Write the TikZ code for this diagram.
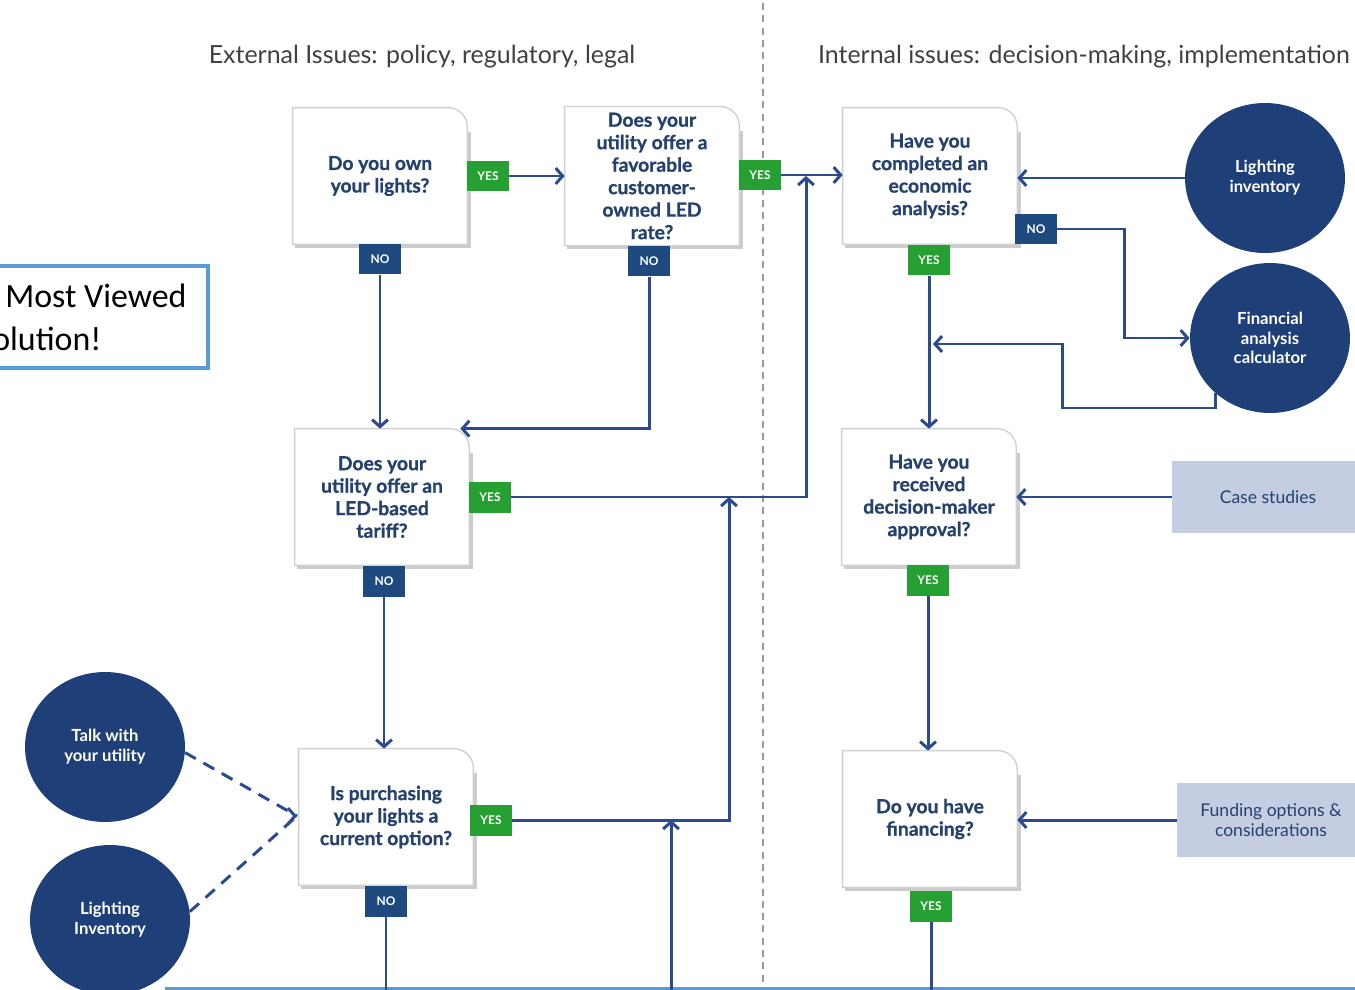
\documentclass[tikz,border=0pt]{standalone}
\usepackage{fontspec}
\setmainfont{Lato}
\newfontfamily\heavyfont{Lato}[BoldFeatures={FakeBold=0.9}]
\newfontfamily\calfont{Carlito}
\usetikzlibrary{arrows.meta,shapes.geometric,backgrounds,calc}
\definecolor{navy}{HTML}{24416F}
\definecolor{circfill}{HTML}{1F3F78}
\definecolor{nofill}{HTML}{1F4A80}
\definecolor{yesfill}{HTML}{27A033}
\definecolor{flowblue}{HTML}{2B4A92}
\definecolor{toolgrey}{HTML}{C4CDE1}
\definecolor{callblue}{HTML}{5B9BD5}
\tikzset{
  qbox/.style={minimum width=3.48cm,minimum height=2.72cm,align=center,text=navy,font=\heavyfont\bfseries\fontsize{11}{12.8}\selectfont},
  qline/.style={draw=black!18,line width=0.8pt,fill=white},
  qshade/.style={fill=black!20},
  yestag/.style={fill=yesfill,text=white,minimum width=0.84cm,minimum height=0.62cm,inner sep=0pt,font=\bfseries\fontsize{6.8}{7}\selectfont},
  notag/.style={yestag,fill=nofill},
  toolcirc/.style={ellipse,fill=circfill,text=white,minimum width=3.2cm,minimum height=3cm,align=center,font=\bfseries\fontsize{9.5}{11.3}\selectfont},
  toolbox/.style={fill=toolgrey,text=navy,align=center,font=\fontsize{10}{11.3}\selectfont},
  flow/.style={draw=flowblue,line width=1.7pt,-{Straight Barb[length=4pt,width=9pt]}},
  link/.style={draw=flowblue,line width=1.7pt},
  dlink/.style={link,dash pattern=on 7pt off 5pt},
  head/.style={text=black!75,font=\fontsize{14.2}{16}\selectfont}
}
\begin{document}
\begin{tikzpicture}[x=0.02cm,y=-0.02cm]
\useasboundingbox (0,0) rectangle (1355,990);
\clip (0,0) rectangle (1355,990);
\draw[black!40,line width=1.2pt,dash pattern=on 4pt off 3pt] (763,3) -- (763,995);
\draw[callblue,line width=2pt] (165,989) -- (1360,989);
\node[head] (exth) at (422,57) {External Issues: policy, regulatory, legal};
\node[head] (inth) at (1084,57) {Internal issues: decision-making, implementation};
\draw[callblue,line width=2.3pt,fill=white] (-20,266) rectangle (208,368);
\node[anchor=base west,inner sep=0pt,font=\calfont\fontsize{19.3}{23}\selectfont] (mv) at (5,307) {Most Viewed};
\node[anchor=base west,inner sep=0pt,font=\calfont\fontsize{19.3}{23}\selectfont] (sol) at (-8,350) {olution!};

\node[qbox] (own) at (380,176) {Do you own\\your lights?};
\node[qbox] (rate) at (652,176) {Does your\\utility offer a\\favorable\\customer-\\owned LED\\rate?};
\node[qbox] (econ) at (930,176) {Have you\\completed an\\economic\\analysis?};
\node[qbox] (tariff) at (382,497) {Does your\\utility offer an\\LED-based\\tariff?};
\node[qbox] (approv) at (929,497) {Have you\\received\\decision-maker\\approval?};
\node[qbox] (purch) at (386,817) {Is purchasing\\your lights a\\current option?};
\node[qbox] (fin) at (930,819) {Do you have\\financing?};

\node[toolcirc] (inv1) at (1265,178) {Lighting\\inventory};
\node[toolcirc] (fincalc) at (1270,338) {Financial\\analysis\\calculator};
\node[toolcirc] (talk) at (105,747) {Talk with\\your utility};
\node[toolcirc] (inv2) at (110,920) {Lighting\\Inventory};
\node[toolbox,minimum width=3.84cm,minimum height=1.44cm] (case) at (1268,497) {Case studies};
\node[toolbox,minimum width=3.76cm,minimum height=1.48cm] (fund) at (1271,820) {Funding options \&\\considerations};

\node[yestag] (yes1) at (488,176) {YES};
\node[notag] (no1) at (380,259) {NO};
\node[yestag] (yes2) at (760,175) {YES};
\node[notag] (no2) at (649,261) {NO};
\node[notag] (no3) at (1036,229) {NO};
\node[yestag] (yes3) at (929,260) {YES};
\node[yestag] (yes4) at (490,497) {YES};
\node[notag] (no4) at (384,581) {NO};
\node[yestag] (yes5) at (928,580) {YES};
\node[yestag] (yes6) at (491,820) {YES};
\node[notag] (no6) at (386,901) {NO};
\node[yestag] (yes7) at (931,906) {YES};

\coordinate (j1) at (806,176);
\coordinate (j2) at (729,497);
\coordinate (j3) at (671,820);
\coordinate (j5) at (1062,408);
\coordinate (j6) at (933,344);
\coordinate (meet) at (297,816);
\coordinate (btm) at (0,995);

\draw[flow] (yes1) -- (rate);
\draw[flow] (yes2.east) -- (yes2.east -| econ.west);
\draw[flow] (yes4) -| (j1);
\draw[flow] (yes6) -| (j2);
\draw[flow] (j3 |- btm) -- (j3);
\draw[flow] (no1) -- (no1 |- tariff.north);
\draw[flow] (no2) |- ($(tariff.north east)+(-9,0)$);
\draw[flow] (no4) -- (no4 |- purch.north);
\draw[link] (no6) -- (no6 |- btm);
\draw[flow] (inv1.west) -- (inv1.west -| econ.east);
\draw[flow] (no3.east) -- ++(67,0) |- (fincalc.west);
\draw[flow] (fincalc.225) |- (j5) |- (j6);
\draw[flow] (yes3) -- (yes3 |- approv.north);
\draw[flow] (case) -- (case -| approv.east);
\draw[flow] (yes5) -- (yes5 |- fin.north);
\draw[flow] (fund) -- (fund -| fin.east);
\draw[link] (yes7) -- (yes7 |- btm);
\draw[dlink] (talk.-4) -- (meet);
\draw[dlink] (inv2.6) -- (meet);
\draw[flow] ($(meet)+(-3,0)$) -- (meet);

\begin{pgfonlayer}{background}
\foreach \b in {own,rate,econ,tariff,approv,purch,fin}{
  \fill[qshade] ([shift={(1.5pt,-2pt)}]\b.south west) rectangle ([shift={(2pt,-14pt)}]\b.north east);
  \draw[qline] (\b.south west) -- (\b.north west) -- ([xshift=-11pt]\b.north east) arc[start angle=90,end angle=0,radius=11pt] -- (\b.south east) -- cycle;
}
\end{pgfonlayer}
\end{tikzpicture}
\end{document}
